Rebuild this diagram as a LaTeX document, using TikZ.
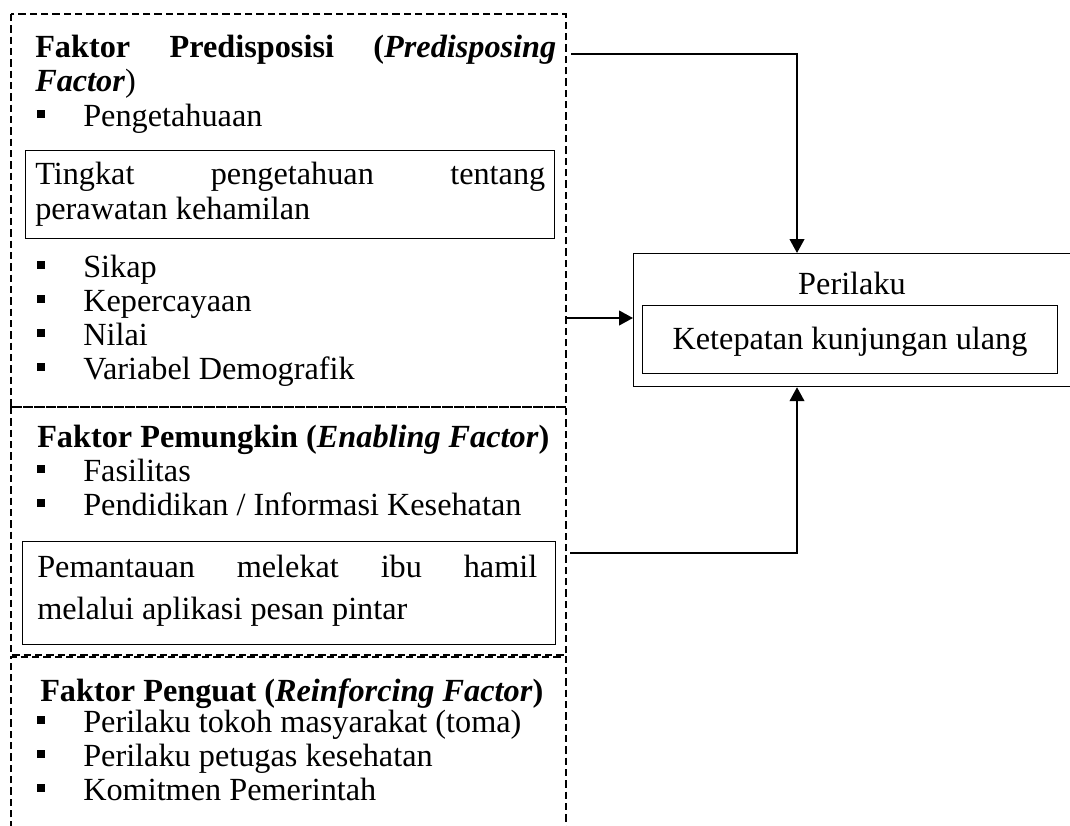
\documentclass[tikz,border=0pt]{standalone}
\usepackage{fontspec}
\setmainfont{Liberation Serif}
\usetikzlibrary{arrows.meta,calc}
\newcommand{\bitem}[1]{\makebox[34.5pt][l]{\rule[5.8pt]{6pt}{6pt}}#1}
\begin{document}
\begin{tikzpicture}[x=0.75pt,y=-0.75pt,
  txt/.style={inner sep=0pt, anchor=base west, font=\fontsize{24.2}{28}\selectfont},
  dbox/.style={draw, line width=0.9pt, dash pattern=on 5.5pt off 3pt},
  sbox/.style={draw, line width=1.1pt},
  arr/.style={line width=1.6pt, -{Triangle[length=10.5pt,width=11pt]}},
  ln/.style={line width=1.6pt}]
\useasboundingbox (0,0) rectangle (1070,825);

% outer dashed boxes
\draw[dbox] (11,14) rectangle (566,407);
\draw[dbox] (11,407) rectangle (566,655);
\draw[dbox] (11,840) -- (11,657) -- (566,657) -- (566,840);

% inner solid boxes
\node[sbox, minimum width=529*0.75pt, minimum height=88*0.75pt, anchor=north west, inner sep=0pt] (kb1) at (25,150) {};
\node[sbox, minimum width=533*0.75pt, minimum height=103*0.75pt, anchor=north west, inner sep=0pt] (kb2) at (22,541) {};

% box 1 text
\node[txt] (h1a) at (35,57) {\hbox to 390.75pt{\textbf{Faktor}\hfill\textbf{Predisposisi}\hfill\textbf{(\textit{Predisposing}}}};
\node[txt] (h1b) at (35,91) {\textbf{\textit{Factor}})};
\node[txt] (i1) at (37,126) {\bitem{Pengetahuaan}};
\node[txt] (k1a) at (35,184) {\hbox to 382.5pt{Tingkat\hfill pengetahuan\hfill tentang}};
\node[txt] (k1b) at (35,219) {perawatan kehamilan};
\node[txt] (i2) at (37,277) {\bitem{Sikap}};
\node[txt] (i3) at (37,311) {\bitem{Kepercayaan}};
\node[txt] (i4) at (37,345) {\bitem{Nilai}};
\node[txt] (i5) at (37,379) {\bitem{Variabel Demografik}};

% box 2 text
\node[txt] (h2) at (37,447) {\textbf{Faktor Pemungkin (\textit{Enabling Factor})}};
\node[txt] (j1) at (37,481) {\bitem{Fasilitas}};
\node[txt] (j2) at (37,515) {\bitem{Pendidikan / Informasi Kesehatan}};
\node[txt] (k2a) at (37,577) {\hbox to 375pt{Pemantauan\hfill melekat\hfill ibu\hfill hamil}};
\node[txt] (k2b) at (37,619) {melalui aplikasi pesan pintar};

% box 3 text
\node[txt] (h3) at (40,701) {\textbf{Faktor Penguat (\textit{Reinforcing Factor})}};
\node[txt] (r1) at (37,732) {\bitem{Perilaku tokoh masyarakat (toma)}};
\node[txt] (r2) at (37,766) {\bitem{Perilaku petugas kesehatan}};
\node[txt] (r3) at (37,800) {\bitem{Komitmen Pemerintah}};

% right box
\node[sbox, line width=0.9pt, minimum width=437*0.75pt, minimum height=133*0.75pt, anchor=north west, inner sep=0pt] (perilaku) at (633,253) {};
\node[sbox, line width=0.9pt, minimum width=415*0.75pt, minimum height=68*0.75pt, anchor=north west, inner sep=0pt] (ketepatan) at (642,305) {};
\node[txt, anchor=base] (pl) at (852,294) {Perilaku};
\node[txt, anchor=base] (kt) at (850,349) {Ketepatan kunjungan ulang};

% connectors
\coordinate (s1) at (571,54);
\coordinate (s2) at (567,318);
\coordinate (s3) at (570,553);
\coordinate (t1) at ($(perilaku.north west)+(164,0)$);
\coordinate (t3) at ($(perilaku.south west)+(164,0)$);
\draw[arr] (s1) -| (t1);
\draw[arr] (s2) -- (s2 -| perilaku.west);
\draw[arr] (s3) -| (t3);
\end{tikzpicture}
\end{document}
